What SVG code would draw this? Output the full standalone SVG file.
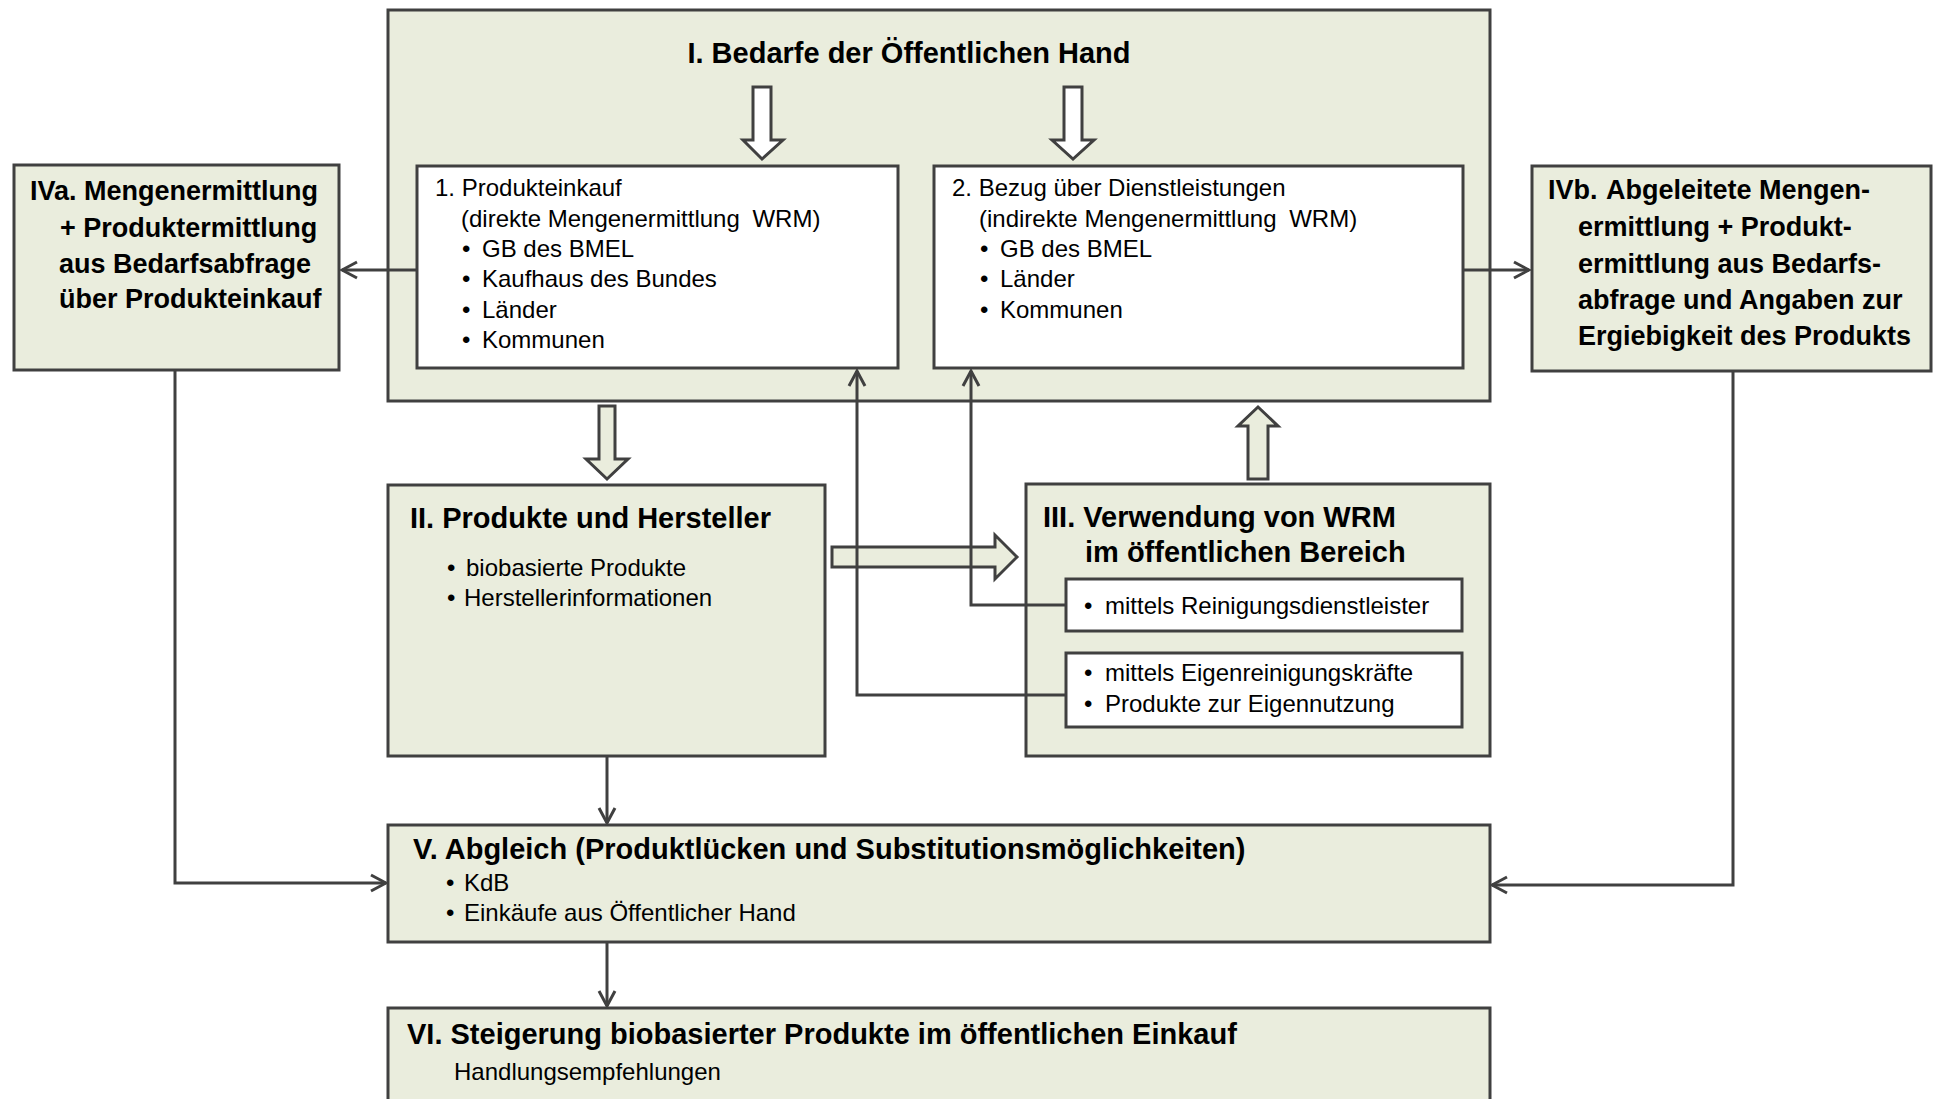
<svg xmlns="http://www.w3.org/2000/svg" width="1933" height="1099" viewBox="0 0 1933 1099">
<defs>
<style>
.box{fill:#EAEDDD;stroke:#404040;stroke-width:3}
.wbox{fill:#FFFFFF;stroke:#404040;stroke-width:3}
.hw{fill:#FFFFFF;stroke:#404040;stroke-width:3;stroke-linejoin:miter}
.hg{fill:#EAEDDD;stroke:#404040;stroke-width:3;stroke-linejoin:miter}
.ln{fill:none;stroke:#404040;stroke-width:3}
text{font-family:"Liberation Sans",Arial,sans-serif;fill:#000000}
.t{font-size:29px;font-weight:bold}
.b{font-size:27px;font-weight:bold}
.r{font-size:24px}
</style>
<marker id="ah" viewBox="0 0 20 20" refX="17" refY="10" markerWidth="20" markerHeight="20" markerUnits="userSpaceOnUse" orient="auto">
<path d="M2,2 L17,10 L2,18" fill="none" stroke="#404040" stroke-width="3"/>
</marker>
</defs>

<g id="node-I">
<rect class="box" x="388" y="10" width="1102" height="391"/>
<text class="t" x="909" y="63" text-anchor="middle">I. Bedarfe der Öffentlichen Hand</text>
<path class="hw" d="M753,87 H771 V140 H783 L762,159 L743,140 H753 Z"/>
<path class="hw" d="M1064,87 H1082 V140 H1094 L1073,159 L1052,140 H1064 Z"/>
</g>

<g id="node-1">
<rect class="wbox" x="417" y="166" width="481" height="202"/>
<text class="r" x="435" y="196">1. Produkteinkauf</text>
<text class="r" x="461" y="227">(direkte Mengenermittlung <tspan dx="6">WRM)</tspan></text>
<text class="r" x="462" y="257">•</text><text class="r" x="482" y="257">GB des BMEL</text>
<text class="r" x="462" y="287">•</text><text class="r" x="482" y="287">Kaufhaus des Bundes</text>
<text class="r" x="462" y="318">•</text><text class="r" x="482" y="318">Länder</text>
<text class="r" x="462" y="348">•</text><text class="r" x="482" y="348">Kommunen</text>
</g>

<g id="node-2">
<rect class="wbox" x="934" y="166" width="529" height="202"/>
<text class="r" x="952" y="196">2. Bezug über Dienstleistungen</text>
<text class="r" x="979" y="227">(indirekte Mengenermittlung <tspan dx="6">WRM)</tspan></text>
<text class="r" x="980" y="257">•</text><text class="r" x="1000" y="257">GB des BMEL</text>
<text class="r" x="980" y="287">•</text><text class="r" x="1000" y="287">Länder</text>
<text class="r" x="980" y="318">•</text><text class="r" x="1000" y="318">Kommunen</text>
</g>

<g id="node-IVa">
<rect class="box" x="14" y="165" width="325" height="205"/>
<text class="b" x="30" y="200">IVa. Mengenermittlung</text>
<text class="b" x="60" y="237">+ Produktermittlung</text>
<text class="b" x="59" y="273">aus Bedarfsabfrage</text>
<text class="b" x="59" y="308">über Produkteinkauf</text>
</g>

<g id="node-IVb">
<rect class="box" x="1532" y="166" width="399" height="205"/>
<text class="b" x="1548" y="199">IVb.</text><text class="b" x="1606" y="199">Abgeleitete Mengen-</text>
<text class="b" x="1578" y="236">ermittlung + Produkt-</text>
<text class="b" x="1578" y="273">ermittlung aus Bedarfs-</text>
<text class="b" x="1578" y="309">abfrage und Angaben zur</text>
<text class="b" x="1578" y="345">Ergiebigkeit des Produkts</text>
</g>

<g id="node-II">
<rect class="box" x="388" y="485" width="437" height="271"/>
<text class="t" x="410" y="528">II. Produkte und Hersteller</text>
<text class="r" x="447" y="576">•</text><text class="r" x="466" y="576">biobasierte Produkte</text>
<text class="r" x="447" y="606">•</text><text class="r" x="464" y="606">Herstellerinformationen</text>
</g>

<g id="node-III">
<rect class="box" x="1026" y="484" width="464" height="272"/>
<text class="t" x="1043" y="527">III. Verwendung von WRM</text>
<text class="t" x="1085" y="562">im öffentlichen Bereich</text>
</g>

<g id="node-III-1">
<rect class="wbox" x="1066" y="579" width="396" height="52"/>
<text class="r" x="1084" y="614">•</text><text class="r" x="1105" y="614">mittels Reinigungsdienstleister</text>
</g>

<g id="node-III-2">
<rect class="wbox" x="1066" y="653" width="396" height="74"/>
<text class="r" x="1084" y="681">•</text><text class="r" x="1105" y="681">mittels Eigenreinigungskräfte</text>
<text class="r" x="1084" y="712">•</text><text class="r" x="1105" y="712">Produkte zur Eigennutzung</text>
</g>

<g id="node-V">
<rect class="box" x="388" y="825" width="1102" height="117"/>
<text class="t" x="413" y="859">V. Abgleich (Produktlücken und Substitutionsmöglichkeiten)</text>
<text class="r" x="446" y="891">•</text><text class="r" x="464" y="891">KdB</text>
<text class="r" x="446" y="921">•</text><text class="r" x="464" y="921">Einkäufe aus Öffentlicher Hand</text>
</g>

<g id="node-VI">
<rect class="box" x="388" y="1008" width="1102" height="100"/>
<text class="t" x="407" y="1044">VI. Steigerung biobasierter Produkte im öffentlichen Einkauf</text>
<text class="r" x="454" y="1080">Handlungsempfehlungen</text>
</g>

<g id="connectors">
<path class="hg" d="M599,406 H615 V459 H628 L607,479 L586,459 H599 Z"/>
<path class="hg" d="M1248,479 H1268 V426 H1278 L1258,407 L1238,426 H1248 Z"/>
<path class="hg" d="M832,547 H995 V535 L1017,557 L995,579 V567 H832 Z"/>
<path class="ln" d="M417,270 H342" marker-end="url(#ah)"/>
<path class="ln" d="M1463,270 H1529" marker-end="url(#ah)"/>
<path class="ln" d="M1066,605 H971 V371" marker-end="url(#ah)"/>
<path class="ln" d="M1066,695 H857 V371" marker-end="url(#ah)"/>
<path class="ln" d="M607,756 V823" marker-end="url(#ah)"/>
<path class="ln" d="M175,370 V883 H386" marker-end="url(#ah)"/>
<path class="ln" d="M1733,371 V885 H1492" marker-end="url(#ah)"/>
<path class="ln" d="M607,942 V1006" marker-end="url(#ah)"/>
</g>
</svg>
